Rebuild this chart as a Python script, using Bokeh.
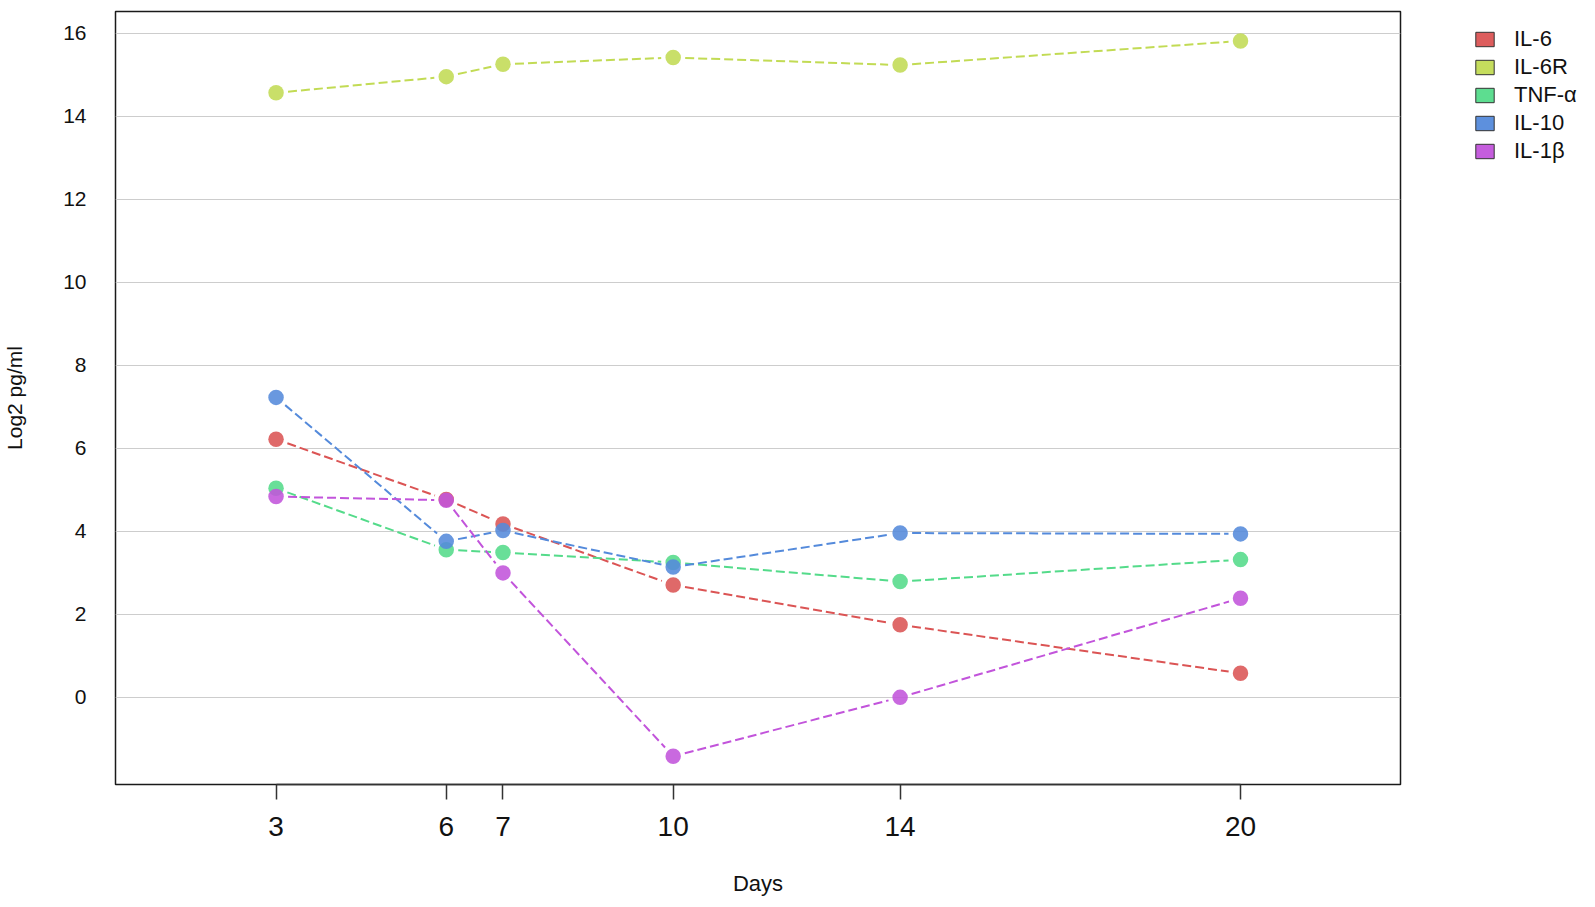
import math
from bokeh.plotting import figure
from bokeh.models import Range1d, FixedTicker, Legend, LegendItem, ColumnDataSource
from bokeh.embed import file_html
from bokeh.resources import INLINE

# ---- data ----
days = [3, 6, 7, 10, 14, 20]
series_names = ["IL-6", "IL-6R", "TNF-α", "IL-10", "IL-1β"]
il6 = [6.22, 4.77, 4.18, 2.71, 1.75, 0.58]
il6r = [14.57, 14.96, 15.26, 15.42, 15.24, 15.82]
tnfa = [5.04, 3.56, 3.49, 3.25, 2.79, 3.32]
il10 = [7.23, 3.76, 4.02, 3.14, 3.96, 3.94]
il1b = [4.84, 4.75, 3.00, -1.42, 0.00, 2.39]
series_values = [il6, il6r, tnfa, il10, il1b]
colors = ["#DB5454", "#C2DB54", "#54DB8A", "#548ADB", "#C254DB"]
x_ticks = [3, 6, 7, 10, 14, 20]
y_ticks = [0, 2, 4, 6, 8, 10, 12, 14, 16]

FONT = "Liberation Sans"
FW, FH = 1285, 773
X0, X1 = 0.17, 22.82
Y0, Y1 = -2.10, 16.53

p = figure(
    frame_width=FW, frame_height=FH,
    x_range=Range1d(X0, X1), y_range=Range1d(Y0, Y1),
    output_backend="svg", toolbar_location=None,
    min_border_left=113, min_border_right=181, min_border_top=11, min_border_bottom=112,
    background_fill_color="white", border_fill_color="white",
)
p.outline_line_color = "#1a1a1a"
p.outline_line_width = 1.5
p.outline_line_alpha = 1.0

p.xgrid.visible = False
p.ygrid.ticker = FixedTicker(ticks=y_ticks)
p.ygrid.grid_line_color = "#CDCDCD"
p.ygrid.grid_line_width = 1.2

# y axis
p.yaxis.ticker = FixedTicker(ticks=y_ticks)
p.yaxis.axis_line_color = None
p.yaxis.major_tick_line_color = None
p.yaxis.major_tick_in = 0
p.yaxis.major_tick_out = 0
p.yaxis.minor_tick_line_color = None
p.yaxis.minor_tick_in = 0
p.yaxis.minor_tick_out = 0
p.yaxis.major_label_text_font = FONT
p.yaxis.major_label_text_font_size = "21px"
p.yaxis.major_label_text_color = "#111111"
p.yaxis.major_label_standoff = 29
p.yaxis.axis_label = "Log2 pg/ml"
p.yaxis.axis_label_text_font = FONT
p.yaxis.axis_label_text_font_size = "21px"
p.yaxis.axis_label_text_font_style = "normal"
p.yaxis.axis_label_text_color = "#111111"
p.yaxis.axis_label_standoff = 34

# x axis
p.xaxis.ticker = FixedTicker(ticks=x_ticks)
p.xaxis.bounds = (3, 20)
p.xaxis.axis_line_color = "#333333"
p.xaxis.axis_line_width = 1.5
p.xaxis.major_tick_line_color = "#333333"
p.xaxis.major_tick_line_width = 1.5
p.xaxis.major_tick_in = 0
p.xaxis.major_tick_out = 15
p.xaxis.minor_tick_line_color = None
p.xaxis.major_label_text_font = FONT
p.xaxis.major_label_text_font_size = "28px"
p.xaxis.major_label_text_color = "#111111"
p.xaxis.major_label_standoff = 17
p.xaxis.axis_label = "Days"
p.xaxis.axis_label_text_font = FONT
p.xaxis.axis_label_text_font_size = "22px"
p.xaxis.axis_label_text_font_style = "normal"
p.xaxis.axis_label_text_color = "#111111"
p.xaxis.axis_label_standoff = 32

# dashed connectors that stop short of the points (like R's type="b")
sx = FW / (X1 - X0)   # px per day
sy = FH / (Y1 - Y0)   # px per log2 unit
GAP = 12.0            # px left free around each point centre
for vals, c in zip(series_values, colors):
    xs0, ys0, xs1, ys1 = [], [], [], []
    for i in range(len(days) - 1):
        xa, ya, xb, yb = days[i], vals[i], days[i + 1], vals[i + 1]
        L = math.hypot((xb - xa) * sx, (yb - ya) * sy)
        if L <= 2 * GAP:
            continue
        t = GAP / L
        xs0.append(xa + (xb - xa) * t)
        ys0.append(ya + (yb - ya) * t)
        xs1.append(xb - (xb - xa) * t)
        ys1.append(yb - (yb - ya) * t)
    p.segment(x0=xs0, y0=ys0, x1=xs1, y1=ys1, line_color=c, line_width=2, line_dash="9 4")

for vals, c in zip(series_values, colors):
    p.scatter(days, vals, size=15.5, fill_color=c, fill_alpha=0.88, line_color=None)

# legend (square patches) - renderers hold a single NaN row so nothing is drawn in the plot
items = []
nan = float("nan")
for name, c in zip(series_names, colors):
    src = ColumnDataSource(dict(left=[nan], right=[nan], top=[nan], bottom=[nan]))
    r = p.quad(left="left", right="right", top="top", bottom="bottom", source=src,
               fill_color=c, fill_alpha=0.95, line_color="#333333", line_width=1)
    items.append(LegendItem(label=name, renderers=[r]))

legend = Legend(items=items, location=(73, 619))
legend.margin = 0
legend.padding = 0
legend.border_line_color = None
legend.background_fill_alpha = 0
legend.glyph_width = 23
legend.glyph_height = 18
legend.label_standoff = 18
legend.label_height = 28
legend.spacing = 0
legend.label_text_font = FONT
legend.label_text_font_size = "22px"
legend.label_text_color = "#111111"
p.add_layout(legend, "right")

open("out.html", "w").write(file_html(p, INLINE))
